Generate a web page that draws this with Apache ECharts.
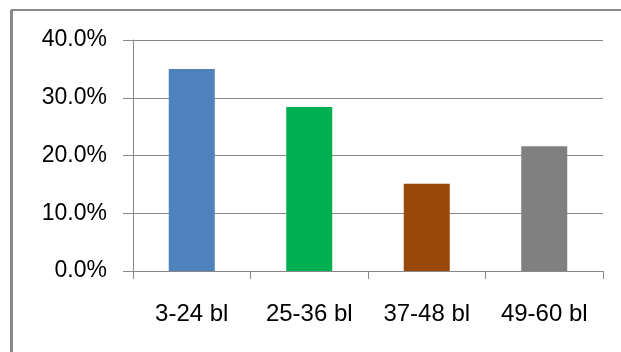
<!DOCTYPE html>
<html>
<head>
<meta charset="utf-8">
<script src="https://cdn.jsdelivr.net/npm/echarts@6/dist/echarts.min.js"></script>
<style>
  html, body { margin: 0; padding: 0; background: #fff; }
  #chart { width: 621px; height: 352px; }
</style>
</head>
<body>
<div id="chart"></div>
<script>
var categories = ['3-24 bl', '25-36 bl', '37-48 bl', '49-60 bl'];
var values = [35.0, 28.4, 15.1, 21.6];
var barColors = ['#4f81bd', '#00b050', '#984807', '#808080'];

(function () {
  var myChart = echarts.init(document.getElementById('chart'));

  var option = {
    animation: false,
    textStyle: {
      fontFamily: 'Liberation Sans',
      color: '#000'
    },
    graphic: [
      {
        type: 'line',
        shape: { x1: 11, y1: 10, x2: 621, y2: 10 },
        style: { stroke: '#888', lineWidth: 2 }
      },
      {
        type: 'line',
        shape: { x1: 11.5, y1: 10, x2: 11.5, y2: 352 },
        style: { stroke: '#888', lineWidth: 3 }
      }
    ],
    grid: {
      left: 133,
      right: 18,
      top: 40,
      bottom: 81
    },
    xAxis: {
      type: 'category',
      data: categories,
      axisLine: { lineStyle: { color: '#888', width: 1 } },
      axisTick: { show: true, length: 8, lineStyle: { color: '#888' } },
      axisLabel: { fontSize: 24, color: '#000', margin: 31 }
    },
    yAxis: {
      type: 'value',
      min: 0,
      max: 40,
      interval: 10,
      axisLine: { show: true, lineStyle: { color: '#888', width: 1 } },
      axisTick: { show: true, length: 10, lineStyle: { color: '#888' } },
      splitLine: { lineStyle: { color: '#888', width: 1 } },
      axisLabel: {
        fontSize: 23,
        color: '#000',
        margin: 26,
        formatter: function (v) { return v.toFixed(1) + '%'; }
      }
    },
    series: [
      {
        type: 'bar',
        barWidth: 46,
        data: values.map(function (v, i) {
          return { value: v, itemStyle: { color: barColors[i] } };
        })
      }
    ]
  };
  myChart.setOption(option);
})();
</script>
</body>
</html>
